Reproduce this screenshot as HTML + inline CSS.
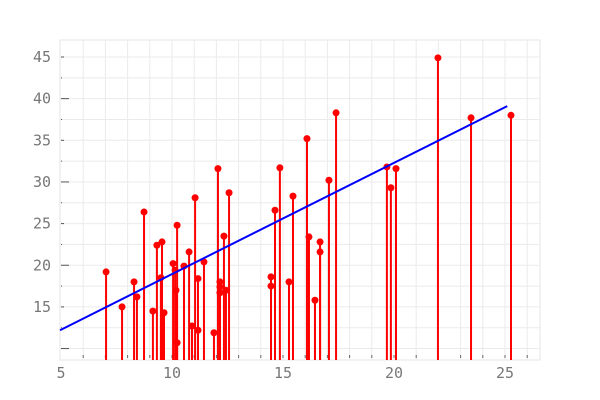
<!DOCTYPE html>
<html><head><meta charset="utf-8"><style>
body{margin:0;background:#fff}
svg{display:block}
text{font-family:"DejaVu Sans Mono","Liberation Mono",monospace;font-size:15px;fill:#777}
</style></head><body>
<svg id="c" width="600" height="400">
<rect x="60" y="40" width="480" height="320" fill="#fff" stroke="#e6e6e6"/>
<g id="grid"></g><g id="axes"></g><g id="marks"></g>
</svg>
<script>
const xs=[7.03,7.75,8.29,8.42,8.74,9.14,9.32,9.5,9.55,9.64,10.05,10.14,10.18,10.23,10.23,10.54,10.77,10.9,11.04,11.17,11.17,11.44,11.89,12.07,12.16,12.16,12.16,12.34,12.43,12.57,14.46,14.46,14.64,14.86,15.27,15.45,16.08,16.17,16.44,16.67,16.67,17.07,17.39,19.68,19.86,20.09,21.98,23.47,25.27];
const ys=[19.2,15.0,18.0,16.2,26.4,14.5,22.4,18.5,22.8,14.3,20.2,19.4,17.0,24.8,10.7,19.9,21.6,12.7,28.1,18.4,12.2,20.4,11.9,31.6,18.0,17.4,16.7,23.5,17.0,28.7,18.6,17.5,26.6,31.7,18.0,28.3,35.2,23.4,15.8,22.8,21.6,30.2,38.3,31.8,29.3,31.6,44.9,37.7,38.0];
const fitX=[5,25.1];
const fitY=[12.2,39.1];
const xTicks=[5,10,15,20,25];
const yTicks=[15,20,25,30,35,40,45];
const NS='http://www.w3.org/2000/svg';
const X=v=>61+(v-5)*22.2;
const Y=v=>57+(45-v)*8.33;
function mk(p,t,a){const e=document.createElementNS(NS,t);for(const k in a)e.setAttribute(k,a[k]);document.getElementById(p).appendChild(e);return e;}
for(let v=6;v<=26;v++){const g=mk('grid','line',{x1:X(v),x2:X(v),y1:40,y2:360,stroke:'#ebebeb'});


const t=mk('axes','line',{x1:X(v),x2:X(v),y1:355,y2:358,stroke:'#666'});

}
for(let v=10;v<=45;v+=2.5){const g=mk('grid','line',{x1:60,x2:540,y1:Y(v),y2:Y(v),stroke:'#ebebeb'});


const big=(v%5===0&&v!==45&&v!==35&&v!==25&&v!==15)?8:(v%5===0?3:1);
const t=mk('axes','line',{x1:61,x2:61+big,y1:Y(v),y2:Y(v),stroke:'#555'});

}
xTicks.forEach(v=>{const t=mk('axes','text',{x:X(v),y:378,'text-anchor':'middle'});t.textContent=v;

});
yTicks.forEach(v=>{const t=mk('axes','text',{x:51,y:Y(v)+5,'text-anchor':'end'});t.textContent=v;

});
xs.forEach((x,i)=>{const s=mk('marks','line',{x1:X(x),x2:X(x),y1:360,y2:Y(ys[i]),stroke:'#f00','stroke-width':2});


const c=mk('marks','circle',{cx:X(x),cy:Y(ys[i]),r:3.5,fill:'#f00'});

});
const l=mk('marks','line',{x1:X(fitX[0])-1,y1:Y(fitY[0]),x2:X(fitX[1]),y2:Y(fitY[1]),stroke:'#00f','stroke-width':2});


</script>
</body></html>
